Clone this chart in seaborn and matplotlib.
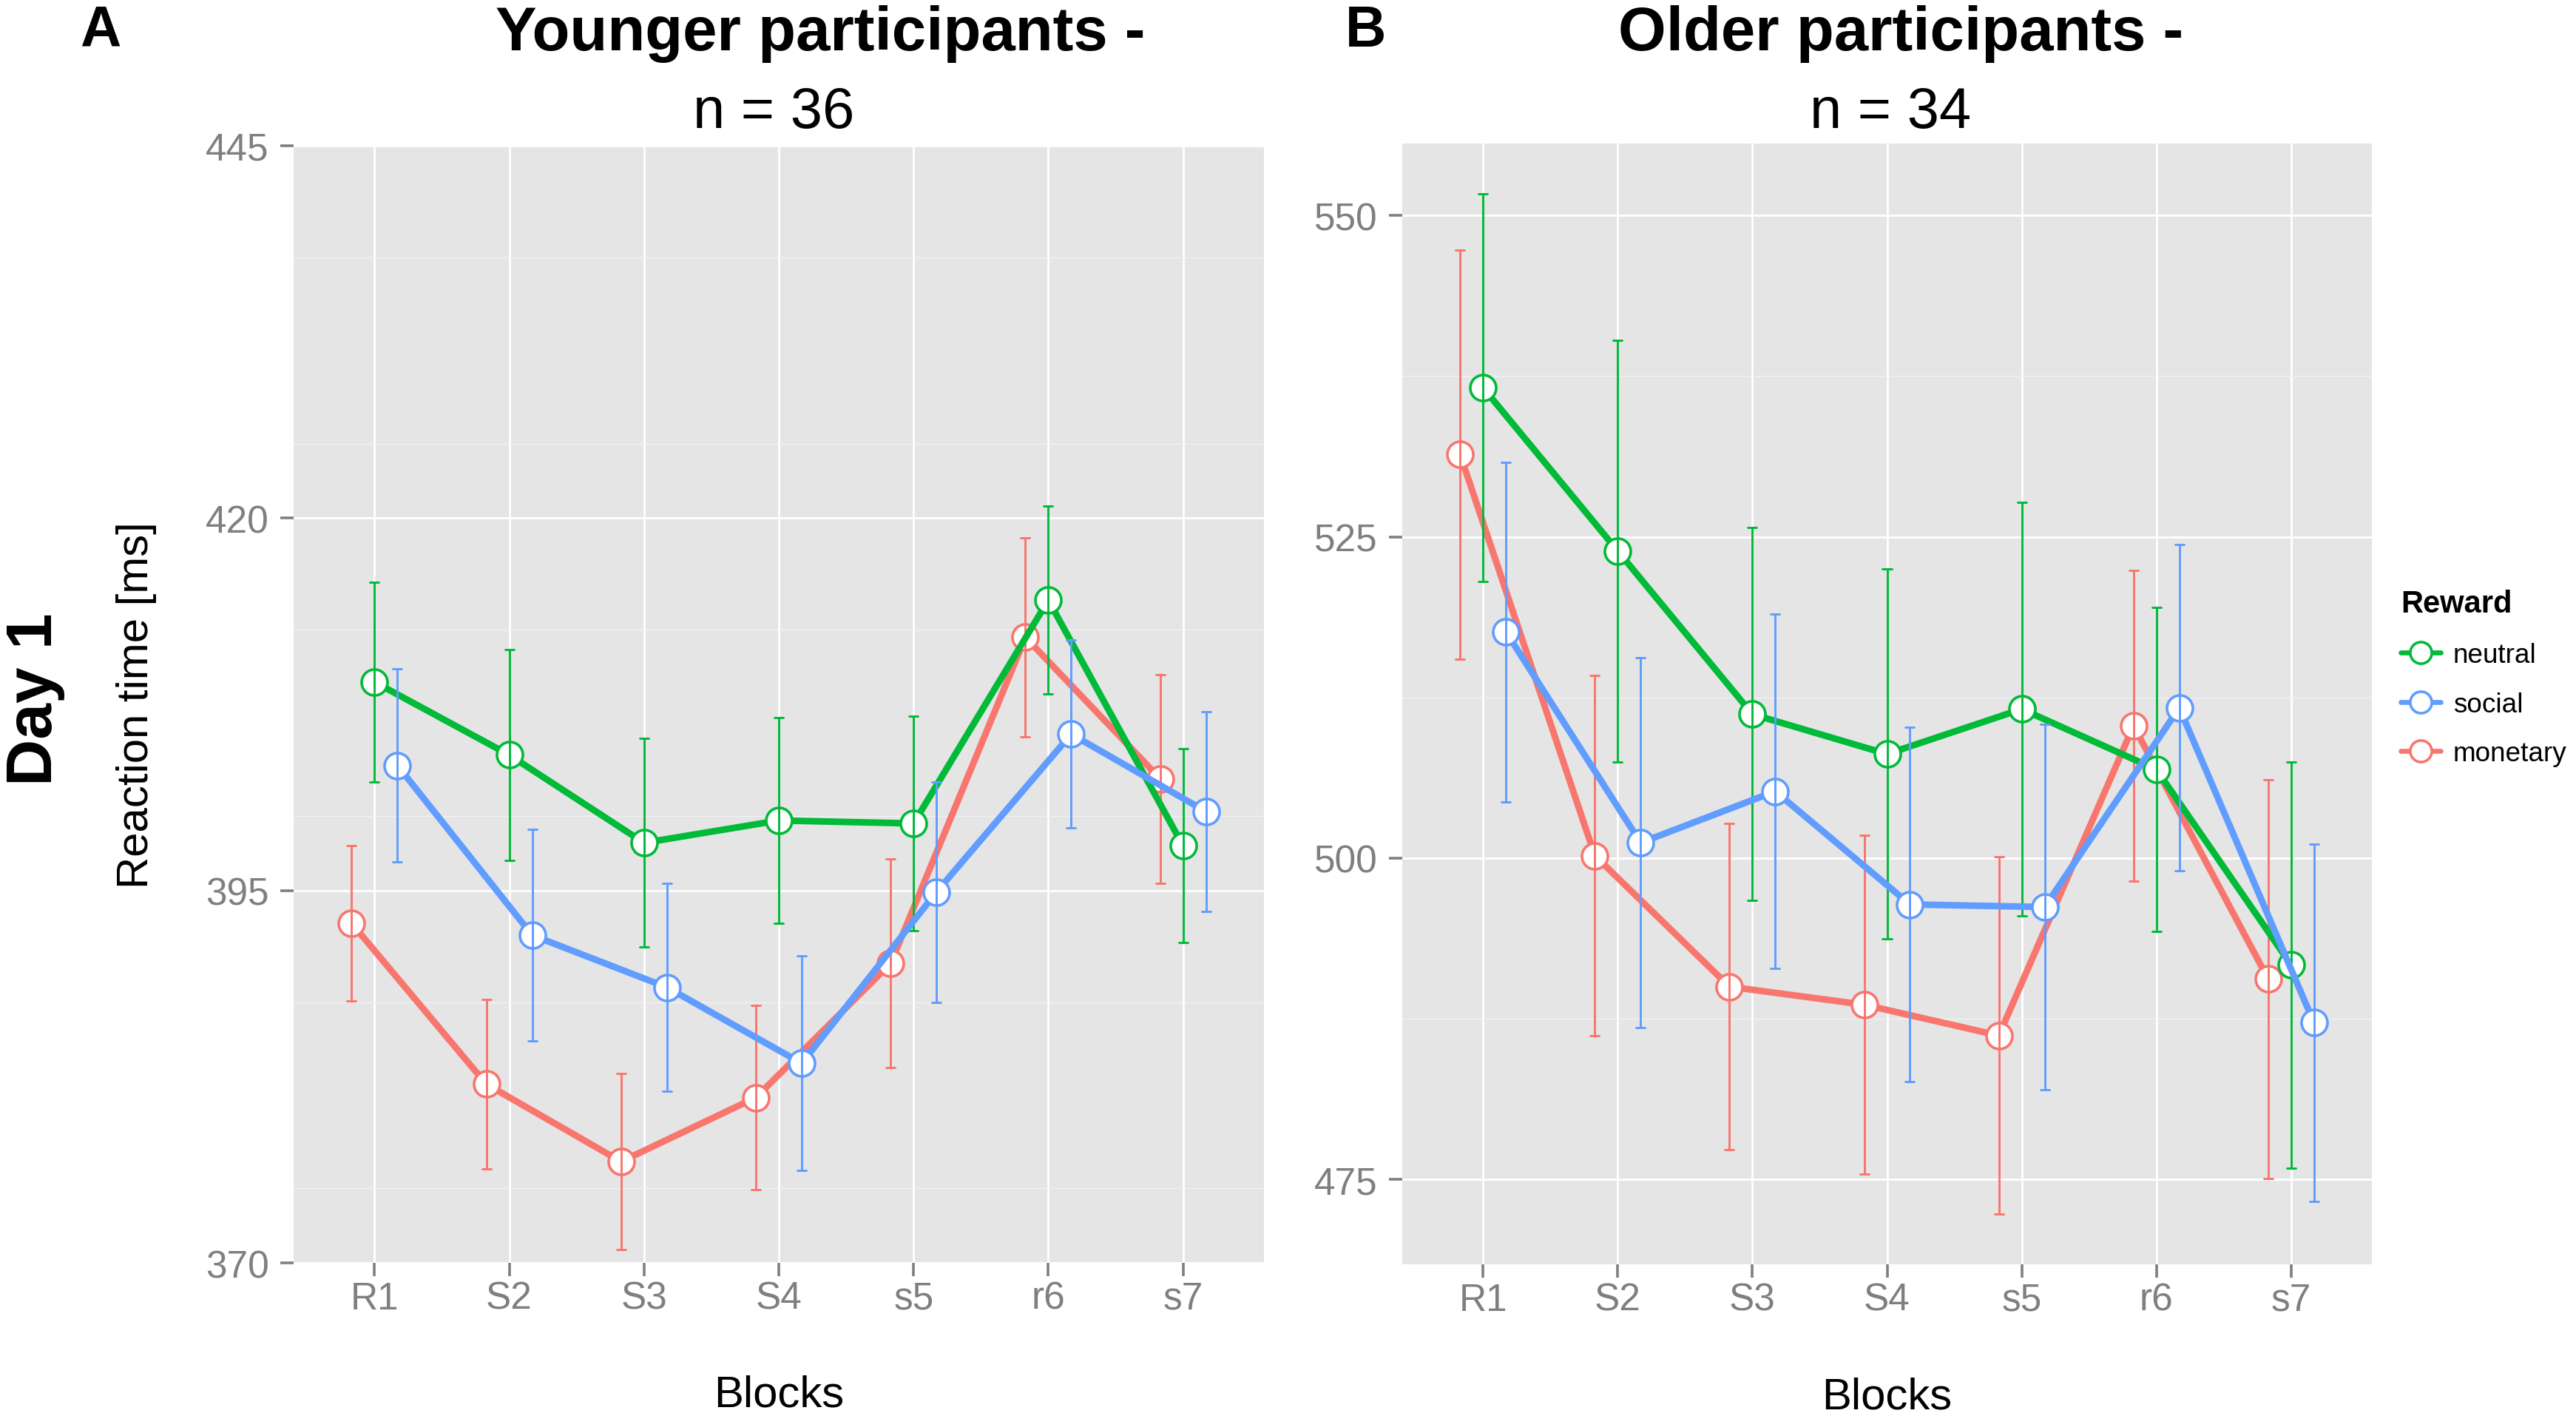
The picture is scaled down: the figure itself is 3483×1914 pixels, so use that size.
import numpy as np
import pandas as pd
import seaborn as sns
import matplotlib.pyplot as plt
from matplotlib.lines import Line2D
from matplotlib.ticker import MultipleLocator

# Blocks and reward conditions
blocks = ["R1", "S2", "S3", "S4", "s5", "r6", "s7"]
rewards = ["neutral", "social", "monetary"]
colors = {"neutral": "#00BA38", "social": "#619CFF", "monetary": "#F8766D"}

# Younger participants (n = 36): mean RT and error
young_neutral = [409.0, 404.1, 398.2, 399.7, 399.5, 414.5, 398.0]
young_neutral_se = [6.7, 7.1, 7.0, 6.9, 7.2, 6.3, 6.5]
young_social = [403.4, 392.0, 388.5, 383.4, 394.9, 405.5, 400.3]
young_social_se = [6.5, 7.1, 7.0, 7.2, 7.4, 6.3, 6.7]
young_monetary = [392.8, 382.0, 376.8, 381.1, 390.1, 412.0, 402.5]
young_monetary_se = [5.2, 5.7, 5.9, 6.2, 7.0, 6.7, 7.0]

# Older participants (n = 34)
old_neutral = [536.6, 523.9, 511.2, 508.1, 511.6, 506.9, 491.7]
old_neutral_se = [15.1, 16.4, 14.5, 14.4, 16.1, 12.6, 15.8]
old_social = [517.6, 501.2, 505.2, 496.4, 496.2, 511.7, 487.2]
old_social_se = [13.2, 14.4, 13.8, 13.8, 14.2, 12.7, 13.9]
old_monetary = [531.4, 500.2, 490.0, 488.6, 486.2, 510.3, 490.6]
old_monetary_se = [15.9, 14.0, 12.7, 13.2, 13.9, 12.1, 15.5]


def long_frame(means, ses):
    # two rows per point (mean - se, mean + se) so that mean + min/max interval
    # reproduce the point and its error bar
    rows = []
    for rew in rewards:
        for b, m, s in zip(blocks, means[rew], ses[rew]):
            rows.append({"Blocks": b, "rt": m - s, "Reward": rew})
            rows.append({"Blocks": b, "rt": m + s, "Reward": rew})
    return pd.DataFrame(rows)


young_df = long_frame(
    {"neutral": young_neutral, "social": young_social, "monetary": young_monetary},
    {"neutral": young_neutral_se, "social": young_social_se, "monetary": young_monetary_se},
)
old_df = long_frame(
    {"neutral": old_neutral, "social": old_social, "monetary": old_monetary},
    {"neutral": old_neutral_se, "social": old_social_se, "monetary": old_monetary_se},
)

sns.set_theme(style="darkgrid")
plt.rcParams["font.family"] = ["Liberation Sans", "DejaVu Sans"]
plt.rcParams["text.color"] = "black"
plt.rcParams["axes.labelcolor"] = "black"

W, H = 3483, 1915
fig = plt.figure(figsize=(W / 200, H / 200), dpi=200)
ax1 = fig.add_axes([397 / W, 1 - 1708 / H, 1312 / W, 1510 / H])
ax2 = fig.add_axes([1896 / W, 1 - 1710 / H, 1311 / W, 1515 / H])

for ax, df, ylim, yticks in [
    (ax1, young_df, (370, 445), [370, 395, 420, 445]),
    (ax2, old_df, (468.4, 555.6), [475, 500, 525, 550]),
]:
    sns.pointplot(
        data=df, x="Blocks", y="rt", hue="Reward",
        order=blocks, hue_order=["monetary", "neutral", "social"],
        palette=colors, estimator="mean", errorbar=("pi", 100),
        dodge=0.34, capsize=0.066, err_kws={"linewidth": 1.05},
        linewidth=3.2, markersize=12.6, markeredgewidth=1.3,
        markerfacecolor="white", legend=False, ax=ax,
    )
    ax.set_facecolor("#E5E5E5")
    ax.set_xlim(-0.6, 6.6)
    ax.set_ylim(*ylim)
    ax.set_yticks(yticks)
    ax.yaxis.set_minor_locator(MultipleLocator(12.5))
    ax.grid(True, which="major", axis="both", color="white", linewidth=1.0)
    ax.grid(True, which="minor", axis="y", color="#F2F2F2", linewidth=0.5)
    ax.set_axisbelow(True)
    for sp in ax.spines.values():
        sp.set_visible(False)
    ax.tick_params(which="major", bottom=True, left=True, length=6.5, width=1.3,
                   color="#7F7F7F", labelcolor="#7F7F7F", labelsize=18.5)
    ax.tick_params(axis="y", which="major", pad=5.5)
    ax.tick_params(axis="x", which="major", pad=2)
    ax.tick_params(which="minor", bottom=False, left=False, length=0)
    ax.set_xlabel("Blocks", fontsize=21.6, color="black")
    ax.xaxis.label.set_va("baseline")
    ax.xaxis.set_label_coords(0.5, -194 / 1510)
    ax.set_ylabel("")

ax1.set_ylabel("Reaction time [ms]", fontsize=21.6, color="black")
ax1.yaxis.label.set_va("baseline")
ax1.yaxis.set_label_coords(-197 / 1312, 0.5)

# panel letters, titles, row label
fig.text(136 / W, 1 - 63 / H, "A", ha="center", va="baseline", fontsize=27.6,
         weight="bold", color="black")
fig.text(1847 / W, 1 - 63 / H, "B", ha="center", va="baseline", fontsize=27.6,
         weight="bold", color="black")
fig.text(1109 / W, 1 - 68 / H, "Younger participants -", ha="center", va="baseline",
         fontsize=30, weight="bold", color="black")
fig.text(1046 / W, 1 - 173 / H, "n = 36", ha="center", va="baseline", fontsize=28,
         color="black")
fig.text(2570 / W, 1 - 68 / H, "Older participants -", ha="center", va="baseline",
         fontsize=30, weight="bold", color="black")
fig.text(2556 / W, 1 - 173 / H, "n = 34", ha="center", va="baseline", fontsize=28,
         color="black")
fig.text(47 / W, 1 - 945 / H, "Day 1", ha="center", va="center", rotation=90,
         fontsize=31.5, weight="bold", color="black")

handles = [
    Line2D([], [], color=colors[r], linewidth=2.4, marker="o", markersize=10.5,
           markerfacecolor="white", markeredgewidth=1.3)
    for r in rewards
]
leg = fig.legend(handles, rewards, title="Reward", loc="upper left",
                 bbox_to_anchor=(3246 / W, 1 - 797 / H), frameon=False,
                 fontsize=13.3, title_fontproperties={"size": 15, "weight": "bold"},
                 alignment="left", borderpad=0, borderaxespad=0,
                 handlelength=1.46, handletextpad=0.45, labelspacing=0.86)
for t in leg.get_texts():
    t.set_color("black")
leg.get_title().set_color("black")

fig.savefig("out.png", dpi=200)
